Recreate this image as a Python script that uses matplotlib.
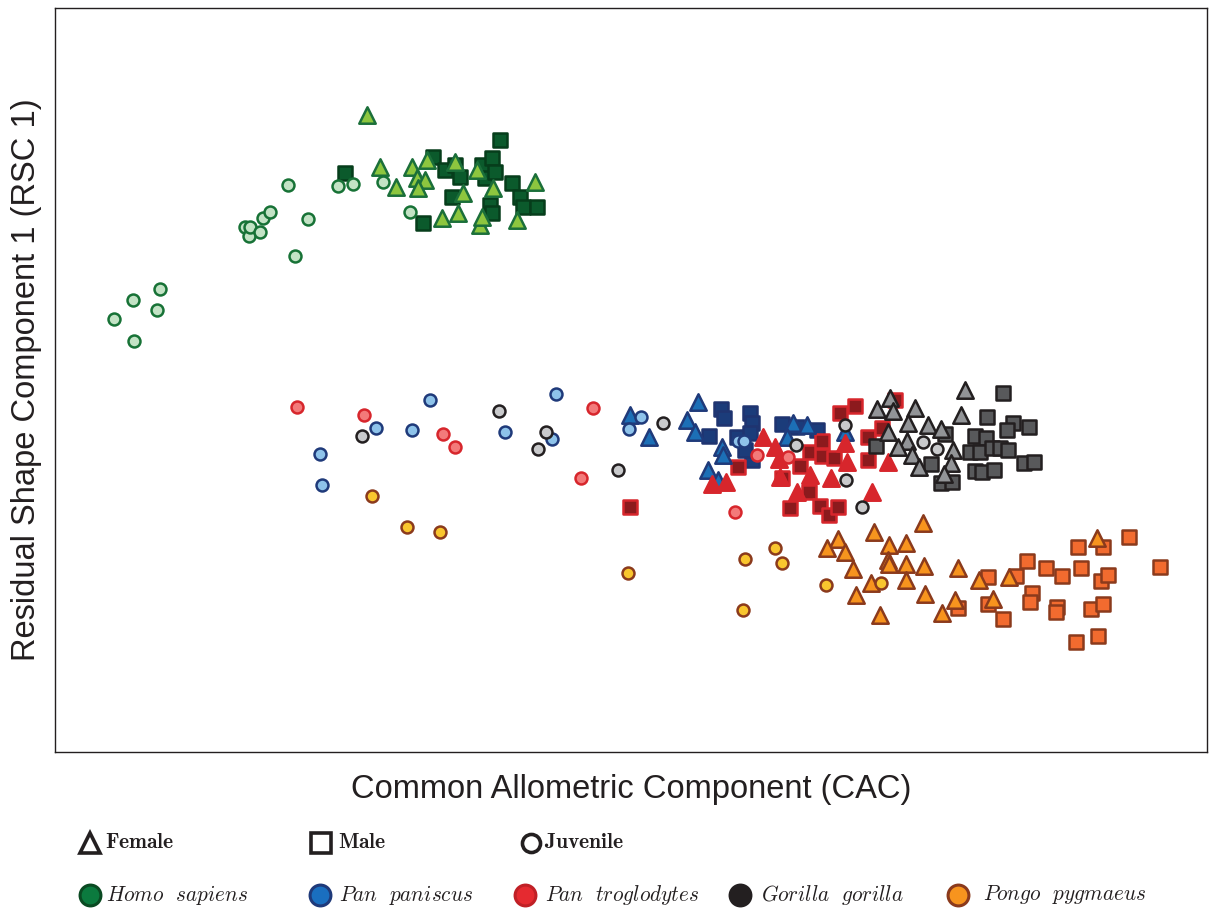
import matplotlib.pyplot as plt
from matplotlib.lines import Line2D

plt.rcParams['mathtext.fontset'] = 'cm'
plt.rcParams['font.family'] = ['Liberation Sans', 'DejaVu Sans']

# CAC / RSC scores (arbitrary units) for each species and sex class
homo_j_x = [114, 133, 160, 157, 134, 245, 249, 250, 260, 263, 270, 288, 308, 295, 338, 353, 383, 410]
homo_j_y = [441, 460, 471, 450, 419, 533, 524, 533, 528, 542, 548, 575, 541, 504, 574, 576, 578, 548]
homo_f_x = [367, 380, 396, 412, 417, 425, 418, 427, 442, 458, 463, 480, 482, 493, 517, 535, 477, 455]
homo_f_y = [645, 593, 573, 593, 582, 580, 572, 600, 542, 547, 567, 535, 543, 572, 540, 578, 590, 598]
homo_m_x = [345, 433, 445, 455, 460, 452, 423, 482, 492, 485, 495, 500, 512, 520, 523, 537, 490, 492]
homo_m_y = [587, 603, 590, 595, 583, 563, 537, 595, 602, 582, 588, 620, 577, 563, 553, 553, 555, 547]

panis_j_x = [320, 322, 376, 412, 430, 505, 556, 552, 629, 641, 738, 744]
panis_j_y = [306, 275, 332, 330, 360, 328, 366, 321, 331, 343, 319, 319]
panis_f_x = [630, 649, 698, 687, 695, 722, 723, 708, 718, 793, 807, 787, 845]
panis_f_y = [345, 323, 358, 340, 328, 313, 305, 290, 280, 337, 335, 323, 328]
panis_m_x = [721, 724, 750, 752, 709, 737, 750, 752, 782, 797, 817, 745]
panis_m_y = [351, 342, 347, 337, 324, 323, 327, 300, 336, 333, 330, 310]

trog_j_x = [297, 364, 443, 455, 593, 581, 735, 757, 788]
trog_j_y = [353, 345, 326, 313, 352, 282, 248, 305, 303]
trog_f_x = [763, 775, 779, 712, 726, 797, 831, 845, 847, 888, 872, 780, 810]
trog_f_y = [323, 313, 301, 276, 278, 268, 282, 317, 298, 298, 268, 283, 285]
trog_m_x = [630, 738, 782, 800, 810, 822, 822, 834, 840, 855, 790, 809, 820, 829, 838, 868, 868, 882, 895]
trog_m_y = [253, 293, 282, 294, 308, 319, 304, 302, 347, 354, 252, 268, 254, 245, 253, 300, 323, 332, 360]

gor_j_x = [362, 499, 546, 538, 618, 663, 796, 845, 846, 923, 937, 862]
gor_j_y = [324, 349, 328, 311, 290, 337, 315, 335, 280, 318, 311, 253]
gor_f_x = [965, 890, 877, 893, 915, 908, 928, 941, 961, 888, 907, 912, 919, 953, 951, 944, 898]
gor_f_y = [370, 362, 351, 349, 352, 337, 335, 331, 345, 328, 319, 305, 293, 310, 297, 286, 313]
gor_m_x = [1003, 987, 1013, 1029, 1007, 945, 975, 986, 970, 980, 992, 1000, 1008, 876, 931, 975, 982, 994, 1024, 1034, 941, 952]
gor_m_y = [367, 343, 337, 333, 330, 326, 324, 322, 308, 308, 312, 312, 310, 314, 296, 289, 288, 290, 297, 298, 277, 278]

pongo_j_x = [372, 407, 440, 628, 745, 775, 782, 826, 743, 881]
pongo_j_y = [264, 233, 228, 187, 201, 212, 197, 175, 150, 177]
pongo_f_x = [923, 874, 838, 827, 845, 889, 906, 888, 889, 906, 924, 853, 958, 871, 906, 856, 925, 880, 942, 955, 979, 993, 1009, 1097]
pongo_f_y = [237, 228, 221, 212, 208, 215, 217, 200, 196, 196, 194, 191, 192, 177, 180, 165, 166, 145, 147, 160, 180, 161, 183, 222]
pongo_m_x = [988, 1016, 1027, 1046, 1062, 1081, 1078, 1103, 1129, 1160, 1101, 1108, 1032, 1030, 1057, 1056, 1091, 1103, 958, 988, 1003, 1076, 1098]
pongo_m_y = [183, 184, 199, 192, 184, 192, 213, 213, 223, 193, 179, 185, 167, 158, 153, 148, 151, 156, 152, 156, 141, 118, 124]

species = ['Homo  sapiens', 'Pan  paniscus', 'Pan  troglodytes', 'Gorilla  gorilla', 'Pongo  pygmaeus']
sexes = ['Female', 'Male', 'Juvenile']

# (fill, edge) per sex class
homo_cols = [('#8dc63f', '#1b6f3a'), ('#0b5a2c', '#063d1b'), ('#c3e3c5', '#177236')]
panis_cols = [('#1c6fb6', '#1f3a7a'), ('#1b3c7a', '#1f3470'), ('#8ec3ea', '#1f3a7a')]
trog_cols = [('#d7262c', '#d7262c'), ('#8c1a1d', '#d7262c'), ('#f37a7a', '#d7262c')]
gor_cols = [('#929497', '#231f20'), ('#58595b', '#231f20'), ('#c9cacc', '#231f20')]
pongo_cols = [('#f7941e', '#8b3a1c'), ('#f26b2f', '#8b3a1c'), ('#f9c62e', '#8b3a1c')]

legend_cols = [('#0b7a3e', '#0a4a22'), ('#1a6fc0', '#1f3a7a'), ('#e52a30', '#c02026'),
               ('#231f20', '#231f20'), ('#f7941e', '#8b3a1c')]

groups = [
    (homo_f_x, homo_f_y, homo_m_x, homo_m_y, homo_j_x, homo_j_y, homo_cols),
    (panis_f_x, panis_f_y, panis_m_x, panis_m_y, panis_j_x, panis_j_y, panis_cols),
    (trog_f_x, trog_f_y, trog_m_x, trog_m_y, trog_j_x, trog_j_y, trog_cols),
    (gor_f_x, gor_f_y, gor_m_x, gor_m_y, gor_j_x, gor_j_y, gor_cols),
    (pongo_f_x, pongo_f_y, pongo_m_x, pongo_m_y, pongo_j_x, pongo_j_y, pongo_cols),
]

fig = plt.figure(figsize=(12.13, 9.09), dpi=100)
ax = fig.add_axes([0.0453, 0.1727, 0.9497, 0.8185])

for fx, fy, mx, my, jx, jy, cols in groups:
    ax.scatter(mx, my, marker='s', s=112, c=cols[1][0], edgecolors=cols[1][1], linewidths=1.8, zorder=2)
    ax.scatter(fx, fy, marker='^', s=140, c=cols[0][0], edgecolors=cols[0][1], linewidths=1.8, zorder=3)
    ax.scatter(jx, jy, marker='o', s=74, c=cols[2][0], edgecolors=cols[2][1], linewidths=1.8, zorder=4)

ax.set_xlim(55, 1207)
ax.set_ylim(8, 752)
ax.set_xticks([])
ax.set_yticks([])
for sp in ax.spines.values():
    sp.set_linewidth(1.0)
    sp.set_color('#231f20')

ax.set_xlabel('Common Allometric Component (CAC)', fontsize=23.5, labelpad=16, color='#231f20')
ax.set_ylabel('Residual Shape Component 1 (RSC 1)', fontsize=23.5, labelpad=9, color='#231f20')

W, H = 1213, 909

# legend row 1: sex / age class
sex_mk = ['^', 's', 'o']
sex_px = [90, 321, 531]
sex_tx = [105, 338, 544]
for mk, px, tx, lab in zip(sex_mk, sex_px, sex_tx, sexes):
    fig.add_artist(Line2D([px / W], [1 - 843 / H], transform=fig.transFigure, marker=mk,
                          markersize=14 if mk != 'o' else 13, markerfacecolor='white',
                          markeredgecolor='#231f20', markeredgewidth=2.6, linestyle='none'))
    fig.text(tx / W, 1 - 843 / H, r'$\mathbf{%s}$' % lab, fontsize=15.5, va='center', ha='left',
             color='#231f20')

# legend row 2: species
sp_px = [90, 320, 525, 740, 958]
sp_tx = [106, 339, 545, 761, 983]
for (fc, ec), px, tx, lab in zip(legend_cols, sp_px, sp_tx, species):
    fig.add_artist(Line2D([px / W], [1 - 895 / H], transform=fig.transFigure, marker='o',
                          markersize=15, markerfacecolor=fc, markeredgecolor=ec,
                          markeredgewidth=2.2, linestyle='none'))
    fig.text(tx / W, 1 - 895 / H, '$' + lab.replace('  ', r'\ \ ') + '$', fontsize=15.3,
             va='center', ha='left', color='#231f20')

fig.savefig('out.png', dpi=100)
